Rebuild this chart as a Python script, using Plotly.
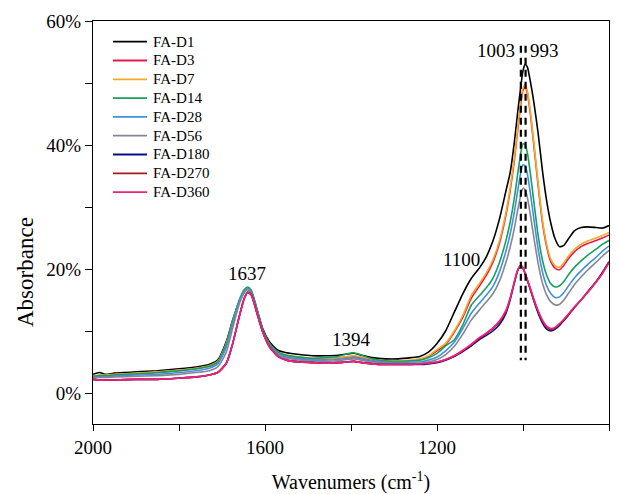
import plotly.graph_objects as go

# ---------------- data ----------------
wavenumber = [2000, 1985, 1970, 1950, 1900, 1850, 1800, 1760, 1730, 1710,
              1690, 1675, 1660, 1648, 1640, 1632, 1620, 1605, 1590, 1570,
              1550, 1520, 1490, 1460, 1430, 1410, 1394, 1375, 1350, 1320,
              1290, 1260, 1240, 1220, 1200, 1180, 1160, 1140, 1120, 1100,
              1085, 1070, 1055, 1040, 1030, 1020, 1012, 1005, 1000, 995,
              990, 983, 975, 965, 955, 945, 935, 925, 915, 905,
              895, 880, 865, 850, 830, 815, 800]

fa_d1 = [3.0, 3.3, 3.0, 3.2, 3.4, 3.6, 3.9, 4.2, 4.6, 5.3,
         8.3, 11.8, 14.8, 16.4, 16.8, 16.4, 13.8, 10.3, 8.3, 6.9,
         6.5, 6.2, 6.0, 6.0, 6.1, 6.3, 6.4, 6.1, 5.7, 5.5,
         5.5, 5.7, 5.9, 6.6, 8.0, 10.0, 13.0, 16.0, 18.5, 20.3,
         22.0, 24.5, 28.0, 32.5, 35.5, 40.5, 45.5, 49.5, 52.0, 53.0,
         52.6, 50.3, 47.0, 42.0, 36.0, 31.0, 27.3, 24.8, 23.6, 23.8,
         24.8, 26.2, 26.7, 26.8, 26.7, 26.6, 27.0]

fa_d3 = [2.7, 2.8, 2.8, 2.9, 3.1, 3.3, 3.6, 3.9, 4.3, 5.0,
         7.8, 11.4, 14.6, 16.3, 16.7, 16.2, 13.5, 9.9, 7.9, 6.5,
         6.0, 5.7, 5.5, 5.5, 5.6, 5.8, 5.9, 5.7, 5.3, 5.1,
         5.1, 5.2, 5.4, 5.9, 6.8, 7.8, 9.8, 12.2, 15.3, 17.4,
         19.0, 21.1, 24.1, 28.6, 32.6, 37.6, 42.6, 46.6, 48.8, 49.3,
         48.4, 45.1, 40.1, 33.6, 27.6, 23.6, 21.1, 20.1, 19.9, 20.6,
         21.6, 22.8, 23.6, 24.1, 24.6, 25.0, 25.5]

fa_d7 = [2.8, 2.9, 2.9, 3.0, 3.2, 3.4, 3.7, 4.0, 4.4, 5.1,
         8.0, 11.6, 14.8, 16.4, 16.8, 16.3, 13.6, 10.0, 8.0, 6.6,
         6.1, 5.8, 5.6, 5.6, 5.7, 5.9, 6.0, 5.8, 5.4, 5.2,
         5.2, 5.3, 5.5, 6.0, 7.0, 8.0, 10.0, 12.5, 15.8, 17.8,
         19.4, 21.5, 24.5, 29.0, 33.0, 38.0, 43.0, 47.0, 49.2, 49.7,
         48.8, 45.5, 40.5, 34.0, 28.0, 24.0, 21.5, 20.5, 20.3, 21.0,
         22.0, 23.2, 24.0, 24.5, 25.0, 25.4, 25.9]

fa_d14 = [2.7, 2.8, 2.8, 2.9, 3.1, 3.3, 3.6, 3.9, 4.3, 5.0,
          7.9, 11.6, 15.0, 16.7, 17.1, 16.6, 13.9, 10.2, 8.0, 6.6,
          6.1, 5.8, 5.6, 5.7, 5.9, 6.3, 6.5, 6.1, 5.5, 5.2,
          5.1, 5.2, 5.3, 5.7, 6.4, 7.6, 8.6, 11.0, 14.2, 15.8,
          17.0, 18.5, 21.0, 24.5, 27.5, 31.5, 35.5, 38.8, 40.2, 40.0,
          38.8, 35.5, 31.0, 25.5, 21.5, 19.0, 17.6, 17.1, 17.3, 18.0,
          19.0, 20.3, 21.3, 22.2, 23.2, 24.0, 24.6]

fa_d28 = [2.5, 2.6, 2.6, 2.7, 2.9, 3.0, 3.3, 3.6, 4.0, 4.7,
          7.4, 11.2, 14.7, 16.4, 16.8, 16.3, 13.6, 9.9, 7.7, 6.3,
          5.8, 5.5, 5.3, 5.3, 5.4, 5.6, 5.7, 5.5, 5.1, 4.9,
          4.9, 5.0, 5.0, 5.3, 5.8, 6.8, 8.2, 10.4, 12.9, 14.6,
          15.8, 17.2, 19.5, 22.8, 25.6, 29.2, 32.8, 35.6, 36.8, 36.6,
          35.4, 32.3, 28.2, 23.3, 19.6, 17.3, 16.0, 15.4, 15.5, 16.2,
          17.2, 18.6, 19.7, 20.7, 21.9, 22.9, 23.7]

fa_d56 = [2.4, 2.5, 2.5, 2.6, 2.7, 2.8, 3.0, 3.3, 3.6, 4.2,
          6.6, 10.5, 14.3, 16.2, 16.7, 16.2, 13.5, 9.8, 7.6, 6.1,
          5.6, 5.3, 5.1, 5.1, 5.2, 5.4, 5.5, 5.3, 4.9, 4.8,
          4.8, 4.8, 4.8, 5.0, 5.4, 6.2, 7.5, 9.5, 11.8, 13.5,
          14.7, 16.0, 18.0, 21.0, 23.5, 26.6, 29.6, 32.0, 33.0, 32.8,
          31.6, 28.8, 25.2, 21.0, 17.8, 15.8, 14.7, 14.2, 14.3, 15.0,
          16.0, 17.5, 18.7, 19.8, 21.1, 22.1, 23.0]

fa_d180 = [2.2, 2.1, 2.1, 2.1, 2.2, 2.2, 2.4, 2.6, 2.9, 3.3,
           4.8, 8.0, 12.3, 15.3, 16.3, 15.9, 13.2, 9.8, 7.5, 5.9,
           5.3, 5.0, 4.9, 4.8, 4.9, 5.0, 5.1, 4.9, 4.7, 4.6,
           4.6, 4.6, 4.6, 4.7, 4.9, 5.3, 5.9, 6.7, 7.6, 8.7,
           9.3, 10.0, 11.0, 12.8, 15.0, 17.8, 19.8, 20.5, 20.1, 19.2,
           18.2, 16.7, 14.9, 12.9, 11.3, 10.3, 10.0, 10.3, 10.9, 11.7,
           12.5, 13.8, 15.0, 16.3, 18.0, 19.5, 21.2]

fa_d270 = [2.2, 2.1, 2.1, 2.1, 2.2, 2.2, 2.4, 2.6, 2.9, 3.3,
           4.8, 8.0, 12.3, 15.3, 16.2, 15.8, 13.2, 9.8, 7.5, 5.9,
           5.3, 5.0, 4.9, 4.8, 4.9, 5.0, 5.1, 4.9, 4.7, 4.6,
           4.6, 4.6, 4.7, 4.8, 5.0, 5.4, 6.0, 6.8, 7.8, 8.9,
           9.6, 10.4, 11.4, 13.1, 15.2, 17.9, 19.9, 20.6, 20.2, 19.3,
           18.3, 16.8, 15.1, 13.2, 11.6, 10.6, 10.2, 10.5, 11.1, 11.8,
           12.6, 13.9, 15.0, 16.2, 17.9, 19.4, 21.1]

fa_d360 = [2.2, 2.1, 2.1, 2.1, 2.2, 2.2, 2.4, 2.6, 2.9, 3.3,
           4.8, 8.0, 12.3, 15.3, 16.2, 15.8, 13.2, 9.8, 7.5, 5.9,
           5.3, 5.0, 4.9, 4.8, 4.9, 5.0, 5.1, 4.9, 4.7, 4.6,
           4.6, 4.6, 4.7, 4.8, 5.0, 5.4, 6.0, 6.9, 7.9, 9.0,
           9.7, 10.5, 11.6, 13.3, 15.3, 18.0, 19.9, 20.6, 20.2, 19.3,
           18.3, 16.9, 15.2, 13.3, 11.8, 10.8, 10.4, 10.6, 11.2, 11.9,
           12.7, 13.9, 15.0, 16.2, 17.9, 19.3, 21.0]

series_names = ["FA-D1", "FA-D3", "FA-D7", "FA-D14", "FA-D28",
                "FA-D56", "FA-D180", "FA-D270", "FA-D360"]
series_values = [fa_d1, fa_d3, fa_d7, fa_d14, fa_d28,
                 fa_d56, fa_d180, fa_d270, fa_d360]
series_colors = ["#000000", "#e8194a", "#f7a928", "#17a05d", "#3f90e3",
                 "#858598", "#0b0b85", "#a31c1c", "#f2217f"]

peak_labels = ["1637", "1394", "1100", "1003", "993"]
peak_label_x = [1643, 1400, 1142, 1063, 950]
peak_label_y = [19.2, 8.6, 21.5, 55.2, 55.2]

dashed_x = [1005, 994]
dashed_y = [56.0, 5.3]   # drawn from top to bottom

x_ticks = [2000, 1600, 1200, 800]
x_tick_text = ["2000", "1600", "1200", "800"]
y_ticks = [0, 20, 40, 60]
y_tick_text = ["0%", "20%", "40%", "60%"]

# ---------------- figure ----------------
FONT = "'Times New Roman', 'Liberation Serif', Times, serif"
W, H = 623, 494
ML, MR, MT, MB = 93, 14, 21, 70
PW, PH = W - ML - MR, H - MT - MB


def px2paper_x(px):
    return (px - ML) / PW


def px2paper_y(py):
    return (H - MB - py) / PH


fig = go.Figure()
for name, vals, col in zip(series_names, series_values, series_colors):
    fig.add_trace(go.Scatter(x=wavenumber, y=vals, mode="lines", name=name,
                             line=dict(color=col, width=1.6, shape="spline", smoothing=0.6),
                             showlegend=False))

shapes = []
for xv in dashed_x:
    shapes.append(dict(type="line", xref="x", yref="y", x0=xv, x1=xv,
                       y0=dashed_y[0], y1=dashed_y[1],
                       line=dict(color="black", width=2.2, dash="7px,5px")))

annotations = []
for t, xv, yv in zip(peak_labels, peak_label_x, peak_label_y):
    annotations.append(dict(x=xv, y=yv, xref="x", yref="y", text=t, showarrow=False,
                            font=dict(family=FONT, size=19, color="black")))

# manual legend
leg_y0, leg_dy = 41.7, 18.8
for i, (name, col) in enumerate(zip(series_names, series_colors)):
    py = leg_y0 + i * leg_dy
    shapes.append(dict(type="line", xref="paper", yref="paper",
                       x0=px2paper_x(113), x1=px2paper_x(147),
                       y0=px2paper_y(py), y1=px2paper_y(py),
                       line=dict(color=col, width=1.8)))
    annotations.append(dict(x=px2paper_x(151), y=px2paper_y(py), xref="paper", yref="paper",
                            text=name, showarrow=False, xanchor="left", yanchor="middle",
                            font=dict(family=FONT, size=15, color="black")))

# y axis title
annotations.append(dict(x=px2paper_x(25), y=px2paper_y(272), xref="paper", yref="paper",
                        text="Absorbance", showarrow=False, textangle=-90,
                        xanchor="center", yanchor="middle",
                        font=dict(family=FONT, size=23, color="black")))

axis_common = dict(showgrid=False, zeroline=False, showline=True, linecolor="black",
                   linewidth=1.3, mirror=True, ticks="outside", tickcolor="black",
                   tickwidth=1.3, tickmode="array", automargin=False,
                   tickfont=dict(family=FONT, size=19, color="black"))

fig.update_layout(
    width=W, height=H,
    margin=dict(l=ML, r=MR, t=MT, b=MB),
    paper_bgcolor="white", plot_bgcolor="white",
    font=dict(family=FONT, color="black"),
    shapes=shapes, annotations=annotations,
    xaxis=dict(range=[2000, 800], tickvals=x_ticks, ticktext=x_tick_text, ticklen=6,
               minor=dict(tick0=0, dtick=200, ticks="outside", ticklen=6,
                          tickcolor="black", tickwidth=1.3, showgrid=False),
               title=dict(text="Wavenumers (cm<sup>-1</sup>)", standoff=18,
                          font=dict(family=FONT, size=20, color="black")),
               **axis_common),
    yaxis=dict(range=[-5, 60], tickvals=y_ticks, ticktext=y_tick_text, ticklen=7,
               minor=dict(tick0=0, dtick=10, ticks="outside", ticklen=7,
                          tickcolor="black", tickwidth=1.3, showgrid=False),
               **axis_common),
)

fig.write_html("out.html")
